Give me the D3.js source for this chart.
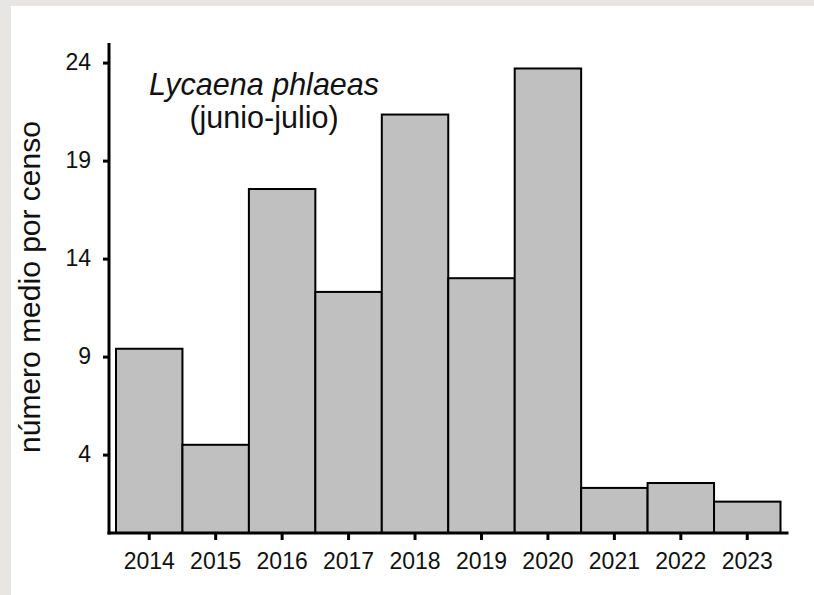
<!DOCTYPE html>
<html lang="es">
<head>
    <meta charset="UTF-8">
    <title>Lycaena phlaeas (junio-julio)</title>
    <script src="https://d3js.org/d3.v7.min.js"></script>
    <style>
        body {
            margin: 0;
            background: #e8e6e2;
        }
        svg {
            display: block;
            font-family: "Liberation Sans", Arial, sans-serif;
        }
        .bar {
            fill: #c0c0c0;
            stroke: #000;
            stroke-width: 2;
        }
        .axis-line {
            stroke: #000;
            stroke-width: 3;
        }
        .tick line {
            stroke: #000;
            stroke-width: 3;
        }
        .tick text {
            fill: #111;
            font-size: 23px;
        }
    </style>
</head>
<body>
    <svg id="chart" width="814" height="595"></svg>
    <script>
        // datos
        const years = ["2014", "2015", "2016", "2017", "2018", "2019", "2020", "2021", "2022", "2023"];
        const values = [9.4, 4.5, 17.55, 12.3, 21.35, 13.0, 23.7, 2.3, 2.55, 1.6];
        const yTicks = [4, 9, 14, 19, 24];

        const svg = d3.select("#chart"),
              width = +svg.attr("width"),
              height = +svg.attr("height");

        // fondo gris con panel blanco
        svg.append("rect")
            .attr("width", width)
            .attr("height", height)
            .attr("fill", "#e8e6e2");
        svg.append("rect")
            .attr("x", 11)
            .attr("y", 6)
            .attr("width", width - 11)
            .attr("height", height - 6)
            .attr("fill", "#fff");

        const axisX = 109;   // posicion del eje y
        const x = d3.scaleBand()
            .domain(years)
            .range([116, 780.5])
            .padding(0);

        const y = d3.scaleLinear()
            .domain([0, 25])
            .range([533, 43]);

        // barras
        svg.selectAll(".bar")
            .data(values)
            .join("rect")
            .attr("class", "bar")
            .attr("x", (d, i) => x(years[i]))
            .attr("y", d => y(d))
            .attr("width", x.bandwidth())
            .attr("height", d => y(0) - y(d));

        // eje y
        const yAxis = svg.append("g")
            .attr("transform", `translate(${axisX},0)`)
            .call(d3.axisLeft(y).tickValues(yTicks).tickSize(6).tickPadding(12));
        yAxis.select(".domain").remove();
        svg.append("line")
            .attr("class", "axis-line")
            .attr("x1", axisX).attr("x2", axisX)
            .attr("y1", y(25)).attr("y2", y(0) + 1.5);

        // eje x
        const xAxis = svg.append("g")
            .attr("transform", `translate(0,${y(0)})`)
            .call(d3.axisBottom(x).tickSize(7).tickPadding(13));
        xAxis.select(".domain").remove();
        svg.append("line")
            .attr("class", "axis-line")
            .attr("x1", axisX - 1.5).attr("x2", x.range()[1] + 8)
            .attr("y1", y(0)).attr("y2", y(0));

        // titulo
        const titleX = 264;
        svg.append("text")
            .attr("x", titleX)
            .attr("y", 95)
            .attr("text-anchor", "middle")
            .attr("font-size", 30.5)
            .attr("font-style", "italic")
            .attr("fill", "#111")
            .text("Lycaena phlaeas");
        svg.append("text")
            .attr("x", titleX)
            .attr("y", 128)
            .attr("text-anchor", "middle")
            .attr("font-size", 30.5)
            .attr("fill", "#111")
            .text("(junio-julio)");

        // etiqueta eje y
        svg.append("text")
            .attr("transform", `translate(40,287) rotate(-90)`)
            .attr("text-anchor", "middle")
            .attr("font-size", 30)
            .attr("fill", "#111")
            .text("número medio por censo");
    </script>
</body>
</html>
